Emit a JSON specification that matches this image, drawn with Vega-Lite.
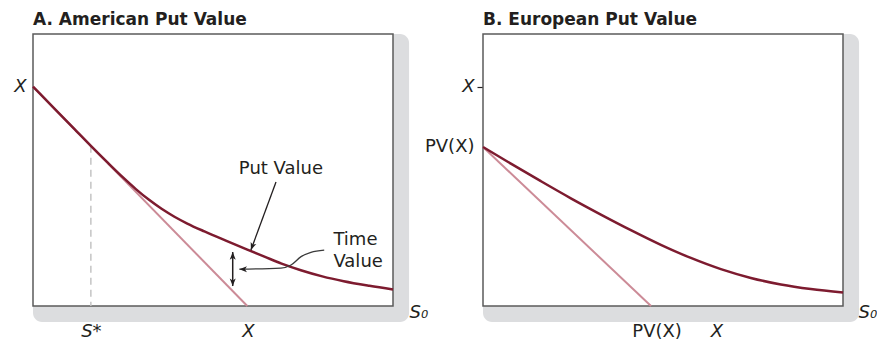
{
  "$schema": "https://vega.github.io/schema/vega-lite/v6.json",
  "padding": {"left": 13, "top": 11, "right": 0, "bottom": 0},
  "background": "white",
  "bounds": "flush",
  "spacing": 90,
  "config": {
    "view": {"stroke": null},
    "font": "DejaVu Sans",
    "title": {"anchor": "start", "frame": "group", "font": "DejaVu Sans", "fontSize": 17, "fontWeight": "bold", "color": "#231f20", "offset": 4},
    "axis": {"grid": false, "domain": false, "zindex": 1, "labelFont": "DejaVu Sans", "labelFontSize": 18, "labelFontStyle": "italic", "labelColor": "#231f20", "titleFont": "DejaVu Sans", "titleFontSize": 18, "titleFontStyle": "italic", "titleFontWeight": "normal", "titleColor": "#231f20", "tickColor": "#231f20", "labelFlush": false, "labelOverlap": false},
    "text": {"font": "DejaVu Sans", "fontSize": 18, "color": "#231f20"}
  },
  "datasets": {
    "putA": [
      {"S": 0, "V": 100}, {"S": 10, "V": 90}, {"S": 20, "V": 80}, {"S": 27, "V": 73},
      {"S": 35, "V": 65.2}, {"S": 42, "V": 58.6}, {"S": 48, "V": 53.3}, {"S": 54, "V": 48.5},
      {"S": 60, "V": 44.3}, {"S": 66, "V": 40.7}, {"S": 72, "V": 37.6}, {"S": 80, "V": 34.0},
      {"S": 90, "V": 29.8}, {"S": 100, "V": 25.7}, {"S": 108, "V": 22.5}, {"S": 116, "V": 19.3},
      {"S": 125, "V": 16.3}, {"S": 135, "V": 13.5}, {"S": 145, "V": 11.3}, {"S": 157, "V": 9.2},
      {"S": 168, "V": 7.5}
    ],
    "intrinsicA": [{"S": 0, "V": 100}, {"S": 100, "V": 0}],
    "sstarA": [{"S": 27, "V": 73}],
    "putArrowA": [{"S": 113.4, "V": 56.5}, {"S": 101.7, "V": 25.5}],
    "putHeadA": [{"S": 101.7, "V": 25.5}],
    "tvBarA": [{"S": 93.2, "V": 9.1, "hi": 24.6}],
    "tvTopA": [{"S": 93.2, "V": 24.6}],
    "tvBottomA": [{"S": 93.2, "V": 9.1}],
    "tvConnA": [
      {"S": 96.3, "V": 16.8}, {"S": 115.7, "V": 17.3}, {"S": 120.4, "V": 18.7},
      {"S": 125.1, "V": 22.5}, {"S": 129.7, "V": 24.5}, {"S": 135.9, "V": 25.5}
    ],
    "tvHeadA": [{"S": 96.3, "V": 16.8}],
    "putLabelA": [{"S": 115.7, "V": 60.2, "label": "Put Value"}],
    "tvLabelA": [{"S": 140.2, "V": 27.8, "label": "Time"}, {"S": 140.2, "V": 17.6, "label": "Value"}],
    "putB": [
      {"S": 0, "V": 72.5}, {"S": 13, "V": 64.9}, {"S": 27, "V": 56.9}, {"S": 41, "V": 49.1},
      {"S": 55, "V": 41.7}, {"S": 69, "V": 34.6}, {"S": 83, "V": 27.9}, {"S": 97, "V": 21.9},
      {"S": 111, "V": 16.8}, {"S": 125, "V": 12.8}, {"S": 139, "V": 9.8}, {"S": 153, "V": 7.7},
      {"S": 168, "V": 6.1}
    ],
    "intrinsicB": [{"S": 0, "V": 72.5}, {"S": 78.4, "V": 0}]
  },
  "hconcat": [
    {
      "title": "A. American Put Value",
      "width": 360,
      "height": 272,
      "layer": [
        {
          "data": {"values": [{}]},
          "mark": {"type": "rect", "fill": "#dcdddf", "cornerRadius": 9},
          "encoding": {
            "x": {"datum": 0, "type": "quantitative", "scale": {"domain": [0, 168], "nice": false, "zero": false},
                  "axis": {"values": [27, 100.3], "labelExpr": "datum.value < 50 ? 'S*' : 'X'", "ticks": false, "tickSize": 0, "labelPadding": 30, "labelBaseline": "alphabetic", "labelAlign": "center", "title": "S₀", "titleX": 376, "titleY": 11, "titleAlign": "left", "titleBaseline": "alphabetic", "titleAnchor": "start"}},
            "x2": {"datum": 175.5},
            "y": {"datum": -7.3, "type": "quantitative", "scale": {"domain": [0, 124], "nice": false, "zero": false},
                  "axis": {"values": [100], "labelExpr": "'X'", "ticks": false, "tickSize": 0, "labelPadding": 7, "title": null}},
            "y2": {"datum": 124}
          }
        },
        {
          "data": {"values": [{}]},
          "mark": {"type": "rect", "fill": "white", "stroke": "#5b5b5b", "strokeWidth": 1.5},
          "encoding": {
            "x": {"datum": 0, "type": "quantitative", "scale": {"domain": [0, 168], "nice": false, "zero": false},
                  "axis": {"values": [27, 100.3], "labelExpr": "datum.value < 50 ? 'S*' : 'X'", "ticks": false, "tickSize": 0, "labelPadding": 30, "labelBaseline": "alphabetic", "labelAlign": "center", "title": "S₀", "titleX": 376, "titleY": 11, "titleAlign": "left", "titleBaseline": "alphabetic", "titleAnchor": "start"}},
            "x2": {"datum": 168},
            "y": {"datum": 0, "type": "quantitative", "scale": {"domain": [0, 124], "nice": false, "zero": false},
                  "axis": {"values": [100], "labelExpr": "'X'", "ticks": false, "tickSize": 0, "labelPadding": 7, "title": null}},
            "y2": {"datum": 124}
          }
        },
        {
          "encoding": {
            "x": {"field": "S", "type": "quantitative", "scale": {"domain": [0, 168], "nice": false, "zero": false},
                  "axis": {"values": [27, 100.3], "labelExpr": "datum.value < 50 ? 'S*' : 'X'", "ticks": false, "tickSize": 0, "labelPadding": 30, "labelBaseline": "alphabetic", "labelAlign": "center", "title": "S₀", "titleX": 376, "titleY": 11, "titleAlign": "left", "titleBaseline": "alphabetic", "titleAnchor": "start"}},
            "y": {"field": "V", "type": "quantitative", "scale": {"domain": [0, 124], "nice": false, "zero": false},
                  "axis": {"values": [100], "labelExpr": "'X'", "ticks": false, "tickSize": 0, "labelPadding": 7, "title": null}}
          },
          "layer": [
            {
              "data": {"name": "sstarA"},
              "mark": {"type": "rule", "stroke": "#c4c4c4", "strokeWidth": 1.5, "strokeDash": [7, 5]},
              "encoding": {"y2": {"datum": 0}}
            },
            {
              "data": {"name": "intrinsicA"},
              "mark": {"type": "line", "stroke": "#cc8b97", "strokeWidth": 2},
              "encoding": {}
            },
            {
              "data": {"name": "putA"},
              "mark": {"type": "line", "stroke": "#7d1b2f", "strokeWidth": 2.5, "interpolate": "monotone"},
              "encoding": {}
            },
            {
              "data": {"name": "putArrowA"},
              "mark": {"type": "line", "stroke": "#231f20", "strokeWidth": 1.3},
              "encoding": {}
            },
            {
              "data": {"name": "putHeadA"},
              "mark": {"type": "point", "shape": "M0,0L0.75,1.9L0,1.4L-0.75,1.9Z", "size": 64, "filled": true, "color": "#231f20", "opacity": 1, "angle": 200}
            },
            {
              "data": {"name": "tvBarA"},
              "mark": {"type": "rule", "stroke": "#231f20", "strokeWidth": 1.5},
              "encoding": {"y2": {"field": "hi"}}
            },
            {
              "data": {"name": "tvTopA"},
              "mark": {"type": "point", "shape": "M0,0L0.75,1.9L0,1.4L-0.75,1.9Z", "size": 64, "filled": true, "color": "#231f20", "opacity": 1, "angle": 0}
            },
            {
              "data": {"name": "tvBottomA"},
              "mark": {"type": "point", "shape": "M0,0L0.75,1.9L0,1.4L-0.75,1.9Z", "size": 64, "filled": true, "color": "#231f20", "opacity": 1, "angle": 180}
            },
            {
              "data": {"name": "tvConnA"},
              "mark": {"type": "line", "stroke": "#3a3a3a", "strokeWidth": 1.3, "interpolate": "monotone"},
              "encoding": {}
            },
            {
              "data": {"name": "tvHeadA"},
              "mark": {"type": "point", "shape": "M0,0L0.75,1.9L0,1.4L-0.75,1.9Z", "size": 64, "filled": true, "color": "#231f20", "opacity": 1, "angle": 270}
            },
            {
              "data": {"name": "putLabelA"},
              "mark": {"type": "text", "align": "center", "baseline": "alphabetic"},
              "encoding": {"text": {"field": "label"}}
            },
            {
              "data": {"name": "tvLabelA"},
              "mark": {"type": "text", "align": "left", "baseline": "alphabetic"},
              "encoding": {"text": {"field": "label"}}
            }
          ]
        }
      ]
    },
    {
      "title": "B. European Put Value",
      "width": 360,
      "height": 272,
      "layer": [
        {
          "data": {"values": [{}]},
          "mark": {"type": "rect", "fill": "#dcdddf", "cornerRadius": 9},
          "encoding": {
            "x": {"datum": 0, "type": "quantitative", "scale": {"domain": [0, 168], "nice": false, "zero": false},
                  "axis": {"values": [81, 108.9], "labelExpr": "datum.value > 100 ? 'X' : 'PV(X)'", "ticks": true, "tickSize": 4, "tickWidth": 1.2, "tickColor": {"condition": {"test": "datum.value > 100", "value": "#231f20"}, "value": "transparent"}, "labelFontStyle": {"condition": {"test": "datum.value > 100", "value": "italic"}, "value": "normal"}, "labelPadding": 26, "labelBaseline": "alphabetic", "labelAlign": "center", "title": "S₀", "titleX": 375, "titleY": 11, "titleAlign": "left", "titleBaseline": "alphabetic", "titleAnchor": "start"}},
            "x2": {"datum": 175.5},
            "y": {"datum": -7.3, "type": "quantitative", "scale": {"domain": [0, 124], "nice": false, "zero": false},
                  "axis": {"values": [72.5, 100], "labelExpr": "datum.value > 90 ? 'X' : 'PV(X)'", "ticks": true, "tickSize": 6, "tickWidth": 1.2, "tickColor": {"condition": {"test": "datum.value > 90", "value": "#231f20"}, "value": "transparent"}, "labelFontStyle": {"condition": {"test": "datum.value > 90", "value": "italic"}, "value": "normal"}, "labelPadding": 3, "title": null}},
            "y2": {"datum": 124}
          }
        },
        {
          "data": {"values": [{}]},
          "mark": {"type": "rect", "fill": "white", "stroke": "#5b5b5b", "strokeWidth": 1.5},
          "encoding": {
            "x": {"datum": 0, "type": "quantitative", "scale": {"domain": [0, 168], "nice": false, "zero": false},
                  "axis": {"values": [81, 108.9], "labelExpr": "datum.value > 100 ? 'X' : 'PV(X)'", "ticks": true, "tickSize": 4, "tickWidth": 1.2, "tickColor": {"condition": {"test": "datum.value > 100", "value": "#231f20"}, "value": "transparent"}, "labelFontStyle": {"condition": {"test": "datum.value > 100", "value": "italic"}, "value": "normal"}, "labelPadding": 26, "labelBaseline": "alphabetic", "labelAlign": "center", "title": "S₀", "titleX": 375, "titleY": 11, "titleAlign": "left", "titleBaseline": "alphabetic", "titleAnchor": "start"}},
            "x2": {"datum": 168},
            "y": {"datum": 0, "type": "quantitative", "scale": {"domain": [0, 124], "nice": false, "zero": false},
                  "axis": {"values": [72.5, 100], "labelExpr": "datum.value > 90 ? 'X' : 'PV(X)'", "ticks": true, "tickSize": 6, "tickWidth": 1.2, "tickColor": {"condition": {"test": "datum.value > 90", "value": "#231f20"}, "value": "transparent"}, "labelFontStyle": {"condition": {"test": "datum.value > 90", "value": "italic"}, "value": "normal"}, "labelPadding": 3, "title": null}},
            "y2": {"datum": 124}
          }
        },
        {
          "encoding": {
            "x": {"field": "S", "type": "quantitative", "scale": {"domain": [0, 168], "nice": false, "zero": false},
                  "axis": {"values": [81, 108.9], "labelExpr": "datum.value > 100 ? 'X' : 'PV(X)'", "ticks": true, "tickSize": 4, "tickWidth": 1.2, "tickColor": {"condition": {"test": "datum.value > 100", "value": "#231f20"}, "value": "transparent"}, "labelFontStyle": {"condition": {"test": "datum.value > 100", "value": "italic"}, "value": "normal"}, "labelPadding": 26, "labelBaseline": "alphabetic", "labelAlign": "center", "title": "S₀", "titleX": 375, "titleY": 11, "titleAlign": "left", "titleBaseline": "alphabetic", "titleAnchor": "start"}},
            "y": {"field": "V", "type": "quantitative", "scale": {"domain": [0, 124], "nice": false, "zero": false},
                  "axis": {"values": [72.5, 100], "labelExpr": "datum.value > 90 ? 'X' : 'PV(X)'", "ticks": true, "tickSize": 6, "tickWidth": 1.2, "tickColor": {"condition": {"test": "datum.value > 90", "value": "#231f20"}, "value": "transparent"}, "labelFontStyle": {"condition": {"test": "datum.value > 90", "value": "italic"}, "value": "normal"}, "labelPadding": 3, "title": null}}
          },
          "layer": [
            {
              "data": {"name": "intrinsicB"},
              "mark": {"type": "line", "stroke": "#cc8b97", "strokeWidth": 2},
              "encoding": {}
            },
            {
              "data": {"name": "putB"},
              "mark": {"type": "line", "stroke": "#7d1b2f", "strokeWidth": 2.5, "interpolate": "monotone"},
              "encoding": {}
            }
          ]
        }
      ]
    }
  ]
}
